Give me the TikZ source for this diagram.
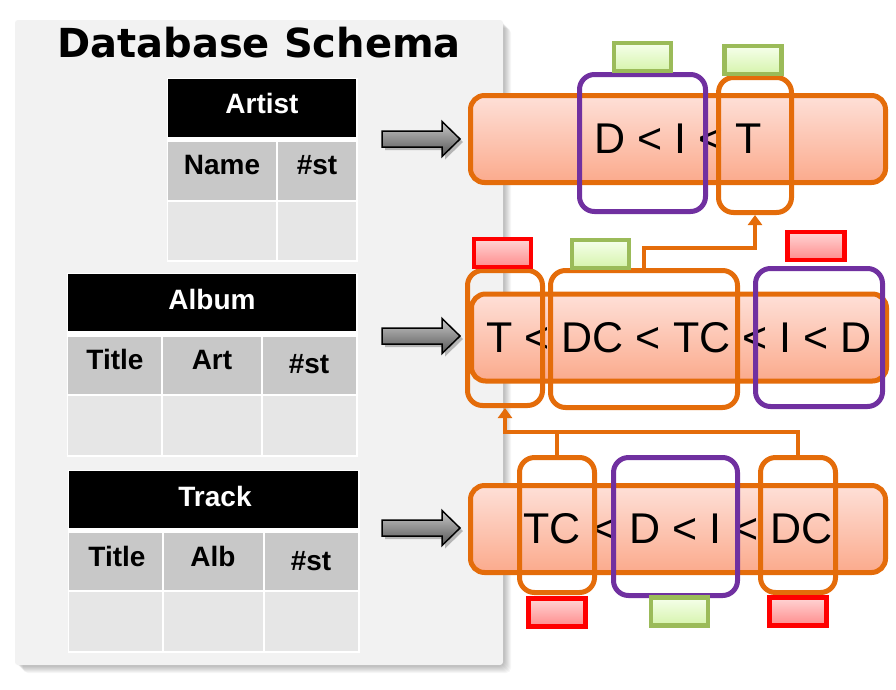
\documentclass[tikz,border=0pt]{standalone}
\usepackage{fontspec}
\setmainfont{Liberation Sans}
\newfontfamily\titlefont{DejaVu Sans}
\usepackage{xcolor}
\usepackage{tikz}
\usetikzlibrary{arrows.meta, positioning}
\definecolor{panelbg}{RGB}{242, 242, 242}
\definecolor{rowgrey}{RGB}{200, 200, 200}
\definecolor{rowlight}{RGB}{230, 230, 230}
\definecolor{schemaorange}{RGB}{228, 108, 10}
\definecolor{schemapurple}{RGB}{112, 48, 160}
\definecolor{bartop}{RGB}{254, 224, 216}
\definecolor{barbottom}{RGB}{251, 170, 140}
\definecolor{tagreen}{RGB}{155, 187, 89}
\definecolor{greentop}{RGB}{246, 255, 236}
\definecolor{greenbottom}{RGB}{214, 244, 172}
\definecolor{redtop}{RGB}{255, 214, 214}
\definecolor{redbottom}{RGB}{255, 140, 140}
\definecolor{arrowtop}{RGB}{200, 200, 200}
\definecolor{arrowbottom}{RGB}{85, 85, 85}
\tikzstyle{bar} = [
    draw=schemaorange,
    line width=5pt,
    rounded corners=14pt,
    top color=bartop,
    bottom color=barbottom,
    minimum width=415pt,
    minimum height=87pt,
    inner sep=0pt,
    font=\fontsize{43}{50}\selectfont
]
\tikzstyle{orangebox} = [
    draw=schemaorange,
    line width=5pt,
    rounded corners=15pt,
    minimum width=75pt,
    minimum height=135pt
]
\tikzstyle{purplebox} = [
    draw=schemapurple,
    line width=5pt,
    rounded corners=15pt,
    minimum width=126pt,
    minimum height=137pt
]
\tikzstyle{greentag} = [
    draw=tagreen,
    line width=4.5pt,
    top color=greentop,
    bottom color=greenbottom,
    minimum width=57pt,
    minimum height=28pt,
    inner sep=0pt
]
\tikzstyle{redtag} = [
    draw=red,
    line width=4.5pt,
    top color=redtop,
    bottom color=redbottom,
    minimum width=57pt,
    minimum height=28pt,
    inner sep=0pt
]
\tikzstyle{link} = [
    line width=4pt,
    -{Triangle[width=14pt,length=10pt]},
    color=schemaorange
]
\tikzstyle{headtext} = [anchor=base, text=white, font=\bfseries\fontsize{28}{32}\selectfont]
\tikzstyle{celltext} = [anchor=base, font=\bfseries\fontsize{28}{32}\selectfont]

\begin{document}
\begin{tikzpicture}[x=1pt, y=-1pt, node distance=0pt]
        \useasboundingbox (0,0) rectangle (896,689);
        \fill[white] (0,0) rectangle (896,689);

        % Schema panel with shadow
        \foreach \s in {1,...,8}
            \fill[black, opacity=0.035, rounded corners=5pt] (15+\s,20+\s) rectangle (503+\s,665+\s);
        \fill[panelbg, rounded corners=3pt] (15,20) rectangle (503,665);
        \node[anchor=base, font=\titlefont\bfseries\fontsize{40}{48}\selectfont] (title) at (259,57) {Database Schema};

        % Artist table
        \fill[white] (166.5,77.5) rectangle (357.5,261.5);
        \fill[black] (168,79) rectangle (356,137);
        \fill[rowgrey] (168,142) rectangle (276,200);
        \fill[rowgrey] (278,142) rectangle (356,200);
        \fill[rowlight] (168,202) rectangle (276,260);
        \fill[rowlight] (278,202) rectangle (356,260);
        \node[headtext] (artist) at (262,113) {Artist};
        \node[celltext] (artistname) at (222,174) {Name};
        \node[celltext] (artistst) at (317,174) {\#st};

        % Album table
        \fill[white] (66.5,272.5) rectangle (357.5,456.5);
        \fill[black] (68,274) rectangle (356,331);
        \fill[rowgrey] (68,337) rectangle (161,394);
        \fill[rowgrey] (163,337) rectangle (261,394);
        \fill[rowgrey] (263,337) rectangle (356,394);
        \fill[rowlight] (68,396) rectangle (161,455);
        \fill[rowlight] (163,396) rectangle (261,455);
        \fill[rowlight] (263,396) rectangle (356,455);
        \node[headtext] (album) at (212,309) {Album};
        \node[celltext] (albumtitle) at (115,369) {Title};
        \node[celltext] (albumart) at (212,369) {Art};
        \node[celltext] (albumst) at (309,373) {\#st};

        % Track table
        \fill[white] (67.5,469.5) rectangle (359.5,652.5);
        \fill[black] (69,471) rectangle (358,528);
        \fill[rowgrey] (69,533) rectangle (162,590);
        \fill[rowgrey] (164,533) rectangle (263,590);
        \fill[rowgrey] (265,533) rectangle (358,590);
        \fill[rowlight] (69,592) rectangle (162,651);
        \fill[rowlight] (164,592) rectangle (263,651);
        \fill[rowlight] (265,592) rectangle (358,651);
        \node[headtext] (track) at (215,506) {Track};
        \node[celltext] (tracktitle) at (117,566) {Title};
        \node[celltext] (trackalb) at (213,566) {Alb};
        \node[celltext] (trackst) at (311,570) {\#st};

        % Grey block arrows
        \foreach \y in {139,336,528} {
            \fill[black, opacity=0.25] (385,\y-5) -- (445,\y-5) -- (445,\y-14.5) -- (463,\y+3) -- (445,\y+20.5) -- (445,\y+11) -- (385,\y+11) -- cycle;
            \shade[top color=arrowtop, bottom color=arrowbottom, draw=black, line width=1.5pt]
                (382,\y-8) -- (442,\y-8) -- (442,\y-17.5) -- (460,\y) -- (442,\y+17.5) -- (442,\y+8) -- (382,\y+8) -- cycle;
        }

        % Orderings
        \node[bar] (artistbar) at (678,139) {D < I < T};
        \node[bar] (albumbar) at (679,337.5) {T < DC < TC < I < D};
        \node[bar] (trackbar) at (678,529) {TC < D < I < DC};

        % Artist groups
        \node[purplebox] (artistDI) at (642.5,143) {};
        \node[orangebox, minimum width=73pt] (artistT) at (755,145) {};
        \node[greentag, above=-1pt of artistDI] (artistDItag) {};
        \node[greentag, above=-1pt of artistT, xshift=-2pt] (artistTtag) {};

        % Album groups
        \node[orangebox] (albumT) at (505,338) {};
        \node[orangebox, minimum width=187pt, minimum height=137pt] (albumDCTC) at (644,339) {};
        \node[purplebox, minimum width=127pt, minimum height=138pt] (albumID) at (819,337.5) {};
        \node[redtag, above=-1pt of albumT, xshift=-2.5pt] (albumTtag) {};
        \node[greentag, above=-2pt of albumDCTC, xshift=-43.5pt] (albumDCTCtag) {};
        \node[redtag, above=4pt of albumID, xshift=-3pt] (albumIDtag) {};

        % Track groups
        \node[orangebox] (trackTC) at (557,525) {};
        \node[purplebox, minimum width=124pt, minimum height=138pt] (trackDI) at (675.5,526.5) {};
        \node[orangebox] (trackDC) at (798,525) {};
        \node[redtag, below=1pt of trackTC] (trackTCtag) {};
        \node[greentag, below=-3pt of trackDI, xshift=4pt] (trackDItag) {};
        \node[redtag, below=0pt of trackDC] (trackDCtag) {};

        % Links between orderings
        \draw[link] (albumDCTC.north) -- ++(0,-20) -| (artistT.south);
        \draw[link, -] (trackTC.north) -- ++(0,-23);
        \draw[link] (trackDC.north) -- ++(0,-23) -| (albumT.south);
    \end{tikzpicture}
\end{document}
